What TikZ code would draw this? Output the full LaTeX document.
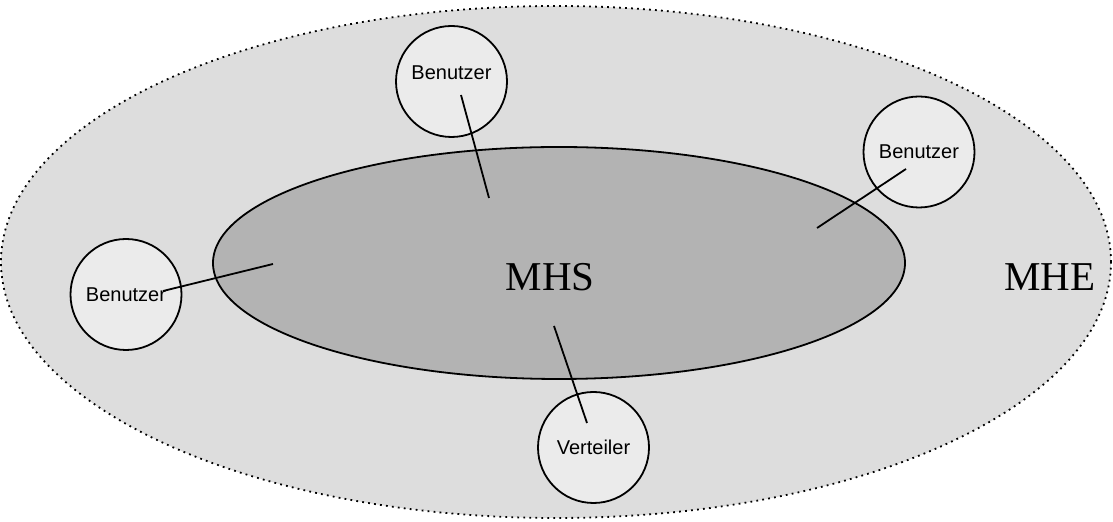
\documentclass[tikz,border=0pt]{standalone}
\usepackage{fontspec}
\setmainfont{Liberation Serif}
\newfontfamily\arialfont{Liberation Sans}
\usetikzlibrary{shapes.geometric}

\definecolor{outergray}{HTML}{DDDDDD}
\definecolor{innergray}{HTML}{B3B3B3}
\definecolor{usergray}{HTML}{EBEBEB}

\tikzset{
  usr/.style={draw, circle, fill=usergray, line width=0.9pt, minimum size=55.5pt,
    inner sep=0pt, font=\arialfont\fontsize{10}{12}\selectfont},
  big/.style={font=\fontsize{20.5}{24}\selectfont},
  conn/.style={line width=0.9pt}
}

\begin{document}
\begin{tikzpicture}[x=0.5pt, y=-0.5pt]
  \useasboundingbox (0,0) rectangle (1113,522);
  % MHE and MHS
  \node[draw, ellipse, fill=outergray, line width=0.9pt, dash pattern=on 0.9pt off 2.1pt,
    minimum width=555pt, minimum height=256pt, inner sep=0pt] (mhe) at (556,262) {};
  \node[draw, ellipse, fill=innergray, line width=0.9pt,
    minimum width=346pt, minimum height=116pt, inner sep=0pt] (mhs) at (559,263) {};
  \node[big] (mhs_t) at (550,277) {MHS};
  \node[big] (mhe_t) at (1050,277) {MHE};

  % Benutzer und Verteiler
  \node[usr] (u_top) at (451.5,81.5) {};
  \node[font=\arialfont\fontsize{10}{12}\selectfont] (u_top_t) at (451.5,73) {Benutzer};
  \node[usr] (u_right) at (919,152) {Benutzer};
  \node[usr] (u_left) at (126,294.5) {Benutzer};
  \node[usr] (v) at (593.5,447.5) {Verteiler};

  \coordinate (u_top_a) at (461,95);
  \coordinate (u_top_b) at (489,198);
  \coordinate (u_right_a) at (906,169);
  \coordinate (u_right_b) at (817,228);
  \coordinate (u_left_a) at (163,291);
  \coordinate (u_left_b) at (273,264);
  \coordinate (v_a) at (587,423);
  \coordinate (v_b) at (554,326);

  \draw[conn] (u_top_a) -- (u_top_b);
  \draw[conn] (u_right_a) -- (u_right_b);
  \draw[conn] (u_left_a) -- (u_left_b);
  \draw[conn] (v_a) -- (v_b);
\end{tikzpicture}
\end{document}
